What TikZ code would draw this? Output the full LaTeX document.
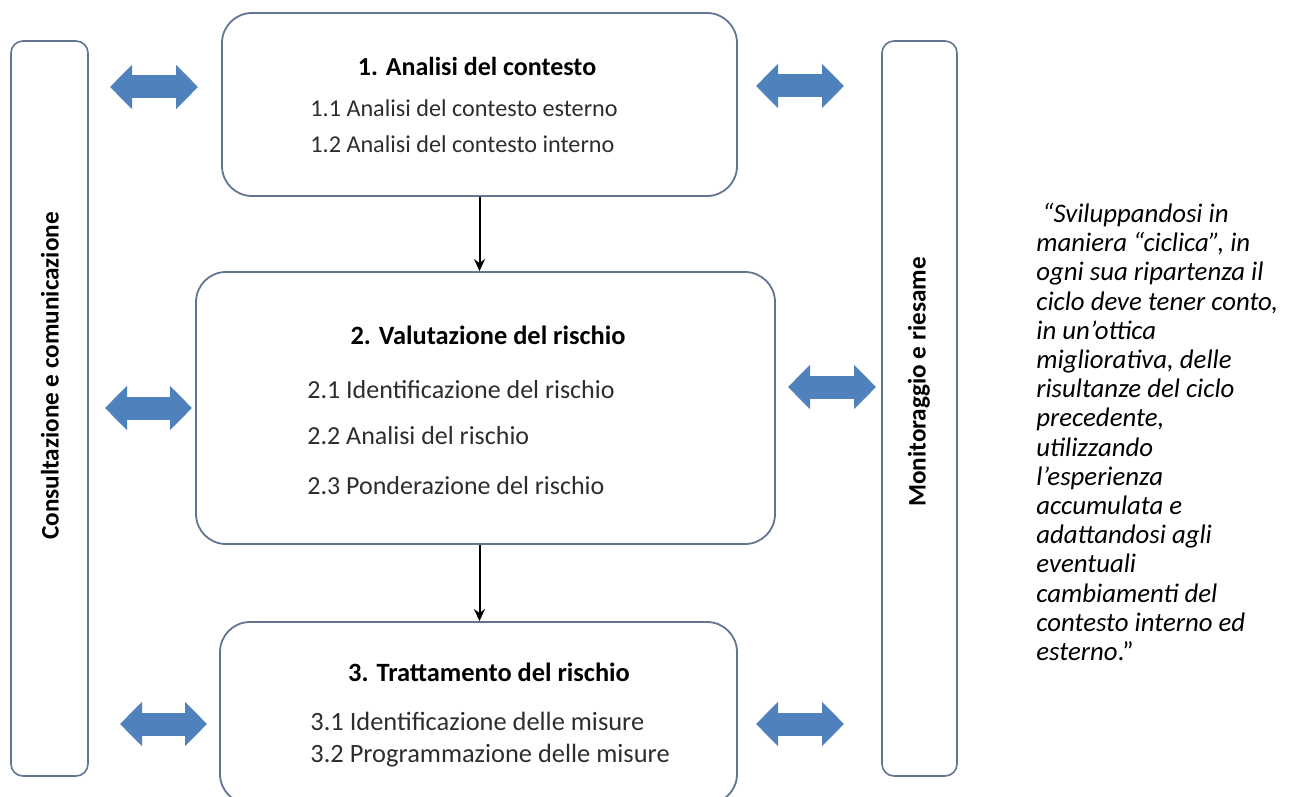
\documentclass[tikz,border=0pt]{standalone}
\usepackage{fontspec}
\setmainfont{Carlito}
\usetikzlibrary{arrows.meta, positioning}

\definecolor{boxline}{RGB}{98,117,146}
\definecolor{linkblue}{RGB}{79,129,189}
\definecolor{itemgray}{RGB}{45,45,45}

\tikzset{
  phase/.style={draw=boxline, line width=0.9pt, rounded corners=15pt, inner sep=0pt},
  sidebar/.style={draw=boxline, line width=0.8pt, rounded corners=6pt, minimum width=38.5pt, minimum height=367.5pt, inner sep=0pt},
  link/.style={draw=linkblue, line width=11.5pt,
    {Triangle[length=11pt,width=21.5pt]}-{Triangle[length=11pt,width=21.5pt]}},
  phasetitle/.style={font=\fontsize{13.2pt}{15pt}\selectfont\bfseries, inner sep=0pt},
  phaseitem/.style={anchor=west, text=itemgray, font=\fontsize{13pt}{15pt}\selectfont, inner sep=0pt},
  sidetext/.style={rotate=90, font=\fontsize{12.6pt}{15pt}\selectfont\bfseries, inner sep=0pt},
  flow/.style={-{Stealth[length=6pt,width=5.5pt]}, line width=1pt},
}

\begin{document}
\begin{tikzpicture}[x=0.5pt, y=-0.5pt]
  \useasboundingbox (0,0) rectangle (1301,797);
  \clip (0,0) rectangle (1301,797);

  % side bars
  \node[sidebar] (consult) at (49.5,408.5) {};
  \node[sidebar, minimum width=37.5pt] (monitor) at (919.5,408.5) {};
  \node[sidetext] (consultlbl) at (50,376) {Consultazione e comunicazione};
  \node[sidetext] (monitorlbl) at (919,382) {Monitoraggio e riesame};

  % phases
  \node[phase, minimum width=257.5pt, minimum height=91.5pt] (contesto) at (479.5,104.5) {};
  \node[phase, minimum width=289.5pt, minimum height=136pt] (valutazione) at (485.5,408) {};
  \node[phase, minimum width=258.5pt, minimum height=91pt] (trattamento) at (478.5,713) {};

  \node[phasetitle, font=\fontsize{13pt}{15pt}\selectfont\bfseries] (contestotitle) at (477,66) {1. Analisi del contesto};
  \node[phaseitem, font=\fontsize{12.1pt}{15pt}\selectfont] (c11) at (310,108) {1.1 Analisi del contesto esterno};
  \node[phaseitem, font=\fontsize{12.1pt}{15pt}\selectfont] (c12) at (310,144) {1.2 Analisi del contesto interno};

  \node[phasetitle] (valutazionetitle) at (488,335) {2. Valutazione del rischio};
  \node[phaseitem] (v21) at (307,390) {2.1 Identificazione del rischio};
  \node[phaseitem] (v22) at (307,436) {2.2 Analisi del rischio};
  \node[phaseitem] (v23) at (307,486) {2.3 Ponderazione del rischio};

  \node[phasetitle] (trattamentotitle) at (489,672) {3. Trattamento del rischio};
  \node[phaseitem, font=\fontsize{13.2pt}{15pt}\selectfont] (t31) at (310,721) {3.1 Identificazione delle misure};
  \node[phaseitem, font=\fontsize{13.2pt}{15pt}\selectfont] (t32) at (310,756) {3.2 Programmazione delle misure};

  % flow between phases
  \draw[flow] (contesto.south) -- (contesto.south |- valutazione.north);
  \draw[flow] (valutazione.south -| contesto.south) -- (trattamento.north -| contesto.south);

  % exchange arrows
  \coordinate (cl1a) at (110,87);  \coordinate (cl1b) at (198,87);
  \coordinate (cl2a) at (105,408); \coordinate (cl2b) at (192,408);
  \coordinate (cl3a) at (120,724); \coordinate (cl3b) at (207,724);
  \coordinate (mr1a) at (756,86);  \coordinate (mr1b) at (844,86);
  \coordinate (mr2a) at (788,387); \coordinate (mr2b) at (876,387);
  \coordinate (mr3a) at (756,724); \coordinate (mr3b) at (844,724);
  \foreach \a/\b in {cl1a/cl1b, cl2a/cl2b, cl3a/cl3b, mr1a/mr1b, mr2a/mr2b, mr3a/mr3b}
    \draw[link] (\a) -- (\b);

  % quotation
  \node[anchor=west, align=left, inner sep=0pt,
        font=\fontsize{13.4pt}{14.6pt}\selectfont\itshape] (quote) at (1036,432) {%
    \hspace{3pt}“Sviluppandosi in\\
    maniera “ciclica”, in\\
    ogni sua ripartenza il\\
    ciclo deve tener conto,\\
    in un’ottica\\
    migliorativa, delle\\
    risultanze del ciclo\\
    precedente,\\
    utilizzando\\
    l’esperienza\\
    accumulata e\\
    adattandosi agli\\
    eventuali\\
    cambiamenti del\\
    contesto interno ed\\
    esterno\textup{.”}};
\end{tikzpicture}
\end{document}
